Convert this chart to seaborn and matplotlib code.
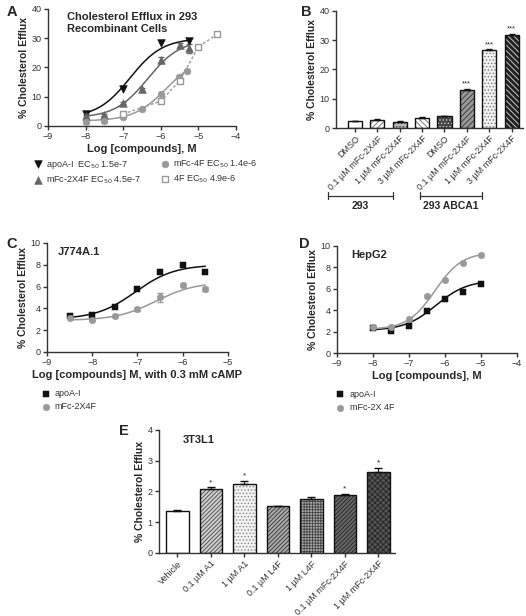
import numpy as np
import pandas as pd
import matplotlib
matplotlib.use("Agg")
import matplotlib.pyplot as plt
import matplotlib.transforms as mtransforms
from matplotlib.patches import Rectangle
import seaborn as sns

# ---------------- data ----------------
# Panel A: 293 recombinant cells
a_apoa_x = [-8, -7, -6, -5.25]
a_apoa_y = [4.0, 12.5, 28.3, 29.0]
a_2x4f_x = [-8, -7.5, -7, -6.5, -6, -5.5, -5.25]
a_2x4f_y = [3.4, 3.8, 7.8, 12.5, 22.5, 27.7, 26.6]
a_2x4f_err = [0.3, 0.3, 0.4, 0.5, 1.0, 0.6, 1.5]
a_m4f_x = [-8, -7.5, -7, -6.5, -6, -5.52, -5.3]
a_m4f_y = [1.5, 1.8, 3.2, 5.7, 10.9, 16.6, 18.9]
a_4f_x = [-7, -6, -5.5, -5, -4.5]
a_4f_y = [4.1, 8.5, 15.4, 27.1, 31.3]
# fitted 4PL params: bottom, top, logEC50, hill, fit range
a_fit_apoa = [2.8, 30.0, -6.82, 1.0, -8, -5.25]
a_fit_2x4f = [2.8, 29.5, -6.35, 1.0, -8, -5.25]
a_fit_m4f = [1.7, 24.0, -5.85, 1.0, -8, -5.3]

# Panel B: 293 vs 293 ABCA1
b_labels = ['DMSO', '0.1 µM mFc-2X4F', '1 µM mFc-2X4F', '3 µM mFc-2X4F',
            'DMSO', '0.1 µM mFc-2X4F', '1 µM mFc-2X4F', '3 µM mFc-2X4F']
b_vals = [2.3, 2.9, 2.2, 3.5, 4.0, 12.9, 26.7, 31.8]
b_err = [0.1, 0.15, 0.1, 0.15, 0.1, 0.6, 0.2, 0.4]
b_stars = ['', '', '', '', '', '***', '***', '***']

# Panel C: J774A.1
c_x = [-8.5, -8, -7.5, -7, -6.5, -6, -5.5]
c_apoa_y = [3.3, 3.4, 4.1, 5.8, 7.3, 8.0, 7.3]
c_2x4f_y = [3.1, 2.9, 3.3, 3.9, 5.0, 6.1, 5.75]
c_2x4f_err = [0.05, 0.05, 0.05, 0.1, 0.4, 0.1, 0.2]
c_fit_apoa = [3.0, 8.0, -7.05, 1.0, -8.5, -5.5]
c_fit_2x4f = [2.9, 6.4, -6.6, 1.0, -8.5, -5.5]

# Panel D: HepG2
d_x = [-8, -7.5, -7, -6.5, -6, -5.5, -5]
d_apoa_y = [2.3, 2.05, 2.5, 3.9, 5.05, 5.7, 6.4]
d_2x4f_y = [2.4, 2.45, 3.2, 5.3, 6.8, 8.4, 9.1]
d_fit_apoa = [2.1, 6.8, -6.25, 1.0, -8, -5]
d_fit_2x4f = [2.2, 9.4, -6.28, 1.15, -8, -5]

# Panel E: 3T3L1
e_labels = ['Vehicle', '0.1 µM A1', '1 µM A1', '0.1 µM L4F', '1 µM L4F',
            '0.1 µM mFc-2X4F', '1 µM mFc-2X4F']
e_vals = [1.37, 2.07, 2.25, 1.52, 1.75, 1.89, 2.63]
e_err = [0.04, 0.06, 0.08, 0.02, 0.07, 0.02, 0.12]
e_stars = ['', '*', '*', '', '', '*', '*']

# ---------------- style ----------------
sns.set_style("ticks")
plt.rcParams['font.family'] = ['Liberation Sans', 'DejaVu Sans']
plt.rcParams['hatch.linewidth'] = 0.6
plt.rcParams['axes.edgecolor'] = '#333333'
plt.rcParams['xtick.color'] = '#333333'
plt.rcParams['ytick.color'] = '#333333'
plt.rcParams['xtick.labelsize'] = 6.5
plt.rcParams['ytick.labelsize'] = 6.5
plt.rcParams['xtick.major.size'] = 3
plt.rcParams['ytick.major.size'] = 3

BLACK = '#111111'
DGREY = '#666666'
LGREY = '#999999'


def four_pl(p):
    bottom, top, logec, hill, x0, x1 = p
    xs = np.linspace(x0, x1, 200)
    return xs, bottom + (top - bottom) / (1 + 10 ** ((logec - xs) * hill))


def style_axes(ax):
    sns.despine(ax=ax)
    ax.spines['left'].set_linewidth(1.0)
    ax.spines['bottom'].set_linewidth(1.0)
    ax.tick_params(width=1.0, pad=1.5)


def ylab(ax):
    ax.set_ylabel('% Cholesterol Efflux', fontsize=7.5, fontweight='bold', labelpad=2)


fig = plt.figure(figsize=(5.26, 6.16), dpi=100)

# ---------------- Panel A ----------------
axA = fig.add_axes([0.0913, 0.7955, 0.3574, 0.19])
for p, c in [(a_fit_apoa, BLACK), (a_fit_2x4f, DGREY), (a_fit_m4f, LGREY)]:
    xs, ys = four_pl(p)
    axA.plot(xs, ys, color=c, lw=1.1, zorder=1)
axA.plot(a_4f_x, a_4f_y, color=LGREY, lw=1.0, ls=(0, (2, 1.5)), zorder=1)
axA.errorbar(a_2x4f_x, a_2x4f_y, yerr=a_2x4f_err, fmt='none', ecolor=DGREY,
             elinewidth=0.8, capsize=2, zorder=2)
sns.scatterplot(x=a_apoa_x, y=a_apoa_y, marker='v', color=BLACK, s=30,
                edgecolor=BLACK, ax=axA, label='apoA-I  EC$_{50}$ 1.5e-7', zorder=3)
sns.scatterplot(x=a_2x4f_x, y=a_2x4f_y, marker='^', color=DGREY, s=30,
                edgecolor=DGREY, ax=axA, label='mFc-2X4F EC$_{50}$ 4.5e-7', zorder=3)
sns.scatterplot(x=a_m4f_x, y=a_m4f_y, marker='o', color=LGREY, s=24,
                edgecolor=LGREY, ax=axA, label='mFc-4F EC$_{50}$ 1.4e-6', zorder=3)
sns.scatterplot(x=a_4f_x, y=a_4f_y, marker='s', facecolor='white', s=24,
                edgecolor=LGREY, linewidth=1.0, ax=axA, label='4F EC$_{50}$ 4.9e-6', zorder=3)
axA.set_xlim(-9, -4)
axA.set_ylim(0, 40)
axA.set_xticks([-9, -8, -7, -6, -5, -4])
axA.set_yticks([0, 10, 20, 30, 40])
axA.set_xlabel('Log [compounds], M', fontsize=8, fontweight='bold', labelpad=2)
ylab(axA)
axA.text(0.1, 0.97, 'Cholesterol Efflux in 293\nRecombinant Cells', transform=axA.transAxes,
         fontsize=8, fontweight='bold', va='top', ha='left', linespacing=1.2)
axA.legend(loc='upper left', bbox_to_anchor=(-0.1, -0.24), ncol=2, frameon=False,
           fontsize=6.5, handletextpad=0.3, columnspacing=2.0, labelspacing=0.4,
           handlelength=1.2, borderaxespad=0, labelcolor='#333333')
style_axes(axA)

# ---------------- Panel B ----------------
axB = fig.add_axes([0.6388, 0.7922, 0.355, 0.19])
b_pos = list(range(len(b_vals)))
sns.barplot(x=b_pos, y=b_vals, ax=axB, color='white', width=0.63,
            edgecolor=BLACK, linewidth=1.0, errorbar=None)
b_face = ['white', 'white', '#bbbbbb', 'white', '#444444', '#999999', '#f2f2f2', '#222222']
b_hatch = [None, '//////', '.....', '\\\\\\\\\\\\', '.....', '//////', '.....', '\\\\\\\\\\\\']
b_hcol = [BLACK, '#666666', '#444444', '#666666', '#cccccc', '#333333', '#777777', '#dddddd']
for patch, fc, h, hc in zip(axB.patches, b_face, b_hatch, b_hcol):
    patch.set_facecolor(fc)
    patch.set_hatch(h)
    patch.set_edgecolor(hc)
    patch.set_linewidth(0)
    axB.add_patch(Rectangle(patch.get_xy(), patch.get_width(), patch.get_height(),
                            fill=False, ec=BLACK, lw=1.0, zorder=3))
axB.errorbar(b_pos, b_vals, yerr=[[0] * len(b_err), b_err], fmt='none', ecolor=BLACK,
             elinewidth=0.8, capsize=2.5, zorder=4)
for x, v, e, s in zip(b_pos, b_vals, b_err, b_stars):
    if s:
        axB.text(x, v + e + 0.4, s, ha='center', va='bottom', fontsize=5.5)
axB.set_xlim(-0.85, 7.5)
axB.set_ylim(0, 40)
axB.set_yticks([0, 10, 20, 30, 40])
axB.set_xticks(b_pos)
axB.set_xticklabels(b_labels, rotation=45, ha='right', rotation_mode='anchor', fontsize=6.5)
ylab(axB)
style_axes(axB)
trB = mtransforms.blended_transform_factory(axB.transData, axB.transAxes)
for (x0, x1), lab in [((-1.2, 1.68), '293'), ((2.92, 5.66), '293 ABCA1')]:
    axB.plot([x0, x1], [-0.58, -0.58], color='#333333', lw=0.9, transform=trB, clip_on=False)
    for xx in (x0, x1):
        axB.plot([xx, xx], [-0.55, -0.61], color='#333333', lw=0.9, transform=trB, clip_on=False)
    axB.text((x0 + x1) / 2, -0.62, lab, transform=trB, ha='center', va='top',
             fontsize=7.5, fontweight='bold')

# ---------------- Panel C ----------------
axC = fig.add_axes([0.0894, 0.4286, 0.344, 0.177])
for p, c in [(c_fit_apoa, BLACK), (c_fit_2x4f, LGREY)]:
    xs, ys = four_pl(p)
    axC.plot(xs, ys, color=c, lw=1.1, zorder=1)
axC.errorbar(c_x, c_2x4f_y, yerr=c_2x4f_err, fmt='none', ecolor=LGREY,
             elinewidth=0.8, capsize=2, zorder=2)
sns.scatterplot(x=c_x, y=c_apoa_y, marker='s', color=BLACK, s=20, edgecolor=BLACK,
                ax=axC, label='apoA-I', zorder=3)
sns.scatterplot(x=c_x, y=c_2x4f_y, marker='o', color=LGREY, s=22, edgecolor=LGREY,
                ax=axC, label='mFc-2X4F', zorder=3)
axC.set_xlim(-9, -5)
axC.set_ylim(0, 10)
axC.set_xticks([-9, -8, -7, -6, -5])
axC.set_yticks([0, 2, 4, 6, 8, 10])
axC.set_xlabel('Log [compounds] M, with 0.3 mM cAMP', fontsize=8, fontweight='bold', labelpad=2)
ylab(axC)
axC.text(0.06, 0.96, 'J774A.1', transform=axC.transAxes, fontsize=8, fontweight='bold',
         va='top', ha='left')
axC.legend(loc='upper left', bbox_to_anchor=(-0.05, -0.31), ncol=1, frameon=False,
           fontsize=6.5, handletextpad=0.4, labelspacing=0.45, handlelength=1.0,
           borderaxespad=0, labelcolor='#333333')
style_axes(axC)

# ---------------- Panel D ----------------
axD = fig.add_axes([0.6407, 0.4269, 0.342, 0.174])
for p, c in [(d_fit_apoa, BLACK), (d_fit_2x4f, LGREY)]:
    xs, ys = four_pl(p)
    axD.plot(xs, ys, color=c, lw=1.1, zorder=1)
sns.scatterplot(x=d_x, y=d_apoa_y, marker='s', color=BLACK, s=20, edgecolor=BLACK,
                ax=axD, label='apoA-I', zorder=3)
sns.scatterplot(x=d_x, y=d_2x4f_y, marker='o', color=LGREY, s=22, edgecolor=LGREY,
                ax=axD, label='mFc-2X 4F', zorder=3)
axD.set_xlim(-9, -4)
axD.set_ylim(0, 10)
axD.set_xticks([-9, -8, -7, -6, -5, -4])
axD.set_yticks([0, 2, 4, 6, 8, 10])
axD.set_xlabel('Log [compounds], M', fontsize=8, fontweight='bold', labelpad=2)
ylab(axD)
axD.text(0.08, 0.96, 'HepG2', transform=axD.transAxes, fontsize=8, fontweight='bold',
         va='top', ha='left')
axD.legend(loc='upper left', bbox_to_anchor=(-0.03, -0.31), ncol=1, frameon=False,
           fontsize=6.5, handletextpad=0.6, labelspacing=0.45, handlelength=1.0,
           borderaxespad=0, labelcolor='#333333')
style_axes(axD)

# ---------------- Panel E ----------------
axE = fig.add_axes([0.3023, 0.1023, 0.449, 0.1997])
e_pos = list(range(len(e_vals)))
sns.barplot(x=e_pos, y=e_vals, ax=axE, color='white', width=0.68,
            edgecolor=BLACK, linewidth=1.0, errorbar=None)
e_face = ['white', '#cfcfcf', '#f2f2f2', '#aaaaaa', '#aaaaaa', '#666666', '#555555']
e_hatch = [None, '////////', '.....', '////////', '++++++', '////////', 'xxxxxx']
e_hcol = [BLACK, '#444444', '#888888', '#333333', '#444444', '#222222', '#222222']
for patch, fc, h, hc in zip(axE.patches, e_face, e_hatch, e_hcol):
    patch.set_facecolor(fc)
    patch.set_hatch(h)
    patch.set_edgecolor(hc)
    patch.set_linewidth(0)
    axE.add_patch(Rectangle(patch.get_xy(), patch.get_width(), patch.get_height(),
                            fill=False, ec=BLACK, lw=1.0, zorder=3))
axE.errorbar(e_pos, e_vals, yerr=[[0] * len(e_err), e_err], fmt='none', ecolor=BLACK,
             elinewidth=0.8, capsize=3, zorder=4)
for x, v, e, s in zip(e_pos, e_vals, e_err, e_stars):
    if s:
        axE.text(x, v + e + 0.05, s, ha='center', va='bottom', fontsize=6)
axE.set_xlim(-0.55, 6.5)
axE.set_ylim(0, 4)
axE.set_yticks([0, 1, 2, 3, 4])
axE.set_xticks(e_pos)
axE.set_xticklabels(e_labels, rotation=45, ha='right', rotation_mode='anchor', fontsize=6.5)
ylab(axE)
axE.text(0.1, 0.96, '3T3L1', transform=axE.transAxes, fontsize=8, fontweight='bold',
         va='top', ha='left')
style_axes(axE)

# panel letters
for lab, x, y in [('A', 0.012, 0.992), ('B', 0.572, 0.992), ('C', 0.012, 0.615),
                  ('D', 0.568, 0.616), ('E', 0.226, 0.312)]:
    fig.text(x, y, lab, fontsize=10.5, fontweight='bold', va='top', ha='left')

fig.savefig('out.png', dpi=100)
